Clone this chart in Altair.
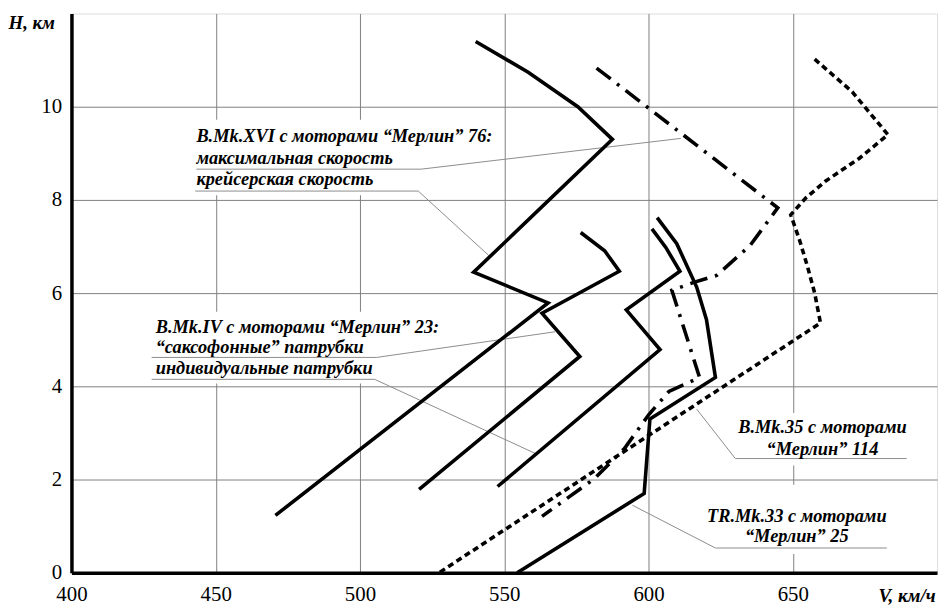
import altair as alt
import pandas as pd

# ---- curves: V (km/h), H (km) ----
xvi_cruise_v = [540.1, 558.3, 575.5, 587.5, 539.4, 565.2, 470.7]
xvi_cruise_h = [11.40, 10.74, 10.00, 9.30, 6.45, 5.79, 1.23]

iv_sax_v = [576.5, 584.8, 589.9, 563.1, 576.2, 520.5]
iv_sax_h = [7.30, 6.91, 6.47, 5.57, 4.64, 1.79]

iv_ind_v = [601.2, 606.0, 610.9, 592.3, 604.0, 547.7]
iv_ind_h = [7.38, 6.98, 6.47, 5.64, 4.79, 1.85]

tr33_v = [603.0, 609.8, 616.7, 620.1, 623.2, 600.5, 598.5, 554.5]
tr33_h = [7.62, 7.06, 6.13, 5.43, 4.19, 3.30, 1.70, 0.0]

xvi_max_v = [582.0, 644.8, 635.2, 623.6, 615.7, 608.1, 617.7, 607.1, 600.2, 591.6, 581.3, 563.1]
xvi_max_h = [10.83, 7.83, 7.02, 6.38, 6.23, 6.06, 4.19, 3.89, 3.40, 2.66, 2.02, 1.21]

b35_v = [657.6, 670.6, 683.0, 673.0, 661.3, 654.5, 649.3, 652.4, 655.2, 657.6, 659.6, 527.4]
b35_h = [11.02, 10.32, 9.40, 8.89, 8.40, 8.04, 7.68, 7.13, 6.55, 6.00, 5.36, 0.0]

x_ticks = [400, 450, 500, 550, 600, 650]
y_ticks = [0, 2, 4, 6, 8, 10]

# ---- annotation texts ----
lbl_xvi = ["B.Mk.XVI с моторами “Мерлин” 76:", "максимальная скорость", "крейсерская скорость"]
lbl_iv = ["B.Mk.IV с моторами “Мерлин”  23:", "“саксофонные” патрубки", "индивидуальные патрубки"]
lbl_35 = ["B.Mk.35 с моторами", "“Мерлин” 114"]
lbl_33 = ["TR.Mk.33 с моторами", "“Мерлин”  25"]

# anchor positions of label lines (data units)
lbl_xvi_v = [443.3, 443.3, 443.3]
lbl_xvi_h = [9.36, 8.89, 8.45]
lbl_iv_v = [429.2, 429.2, 429.2]
lbl_iv_h = [5.28, 4.85, 4.40]
lbl_35_v = [660.3, 660.3]
lbl_35_h = [3.13, 2.66]
lbl_33_v = [651.4, 651.4]
lbl_33_h = [1.21, 0.79]

# leader polylines (data units)
leaders = {
    "max": ([443.3, 521.2, 611.2], [8.66, 8.66, 9.32]),
    "cruise": ([442.9, 520.2, 544.6], [8.19, 8.19, 6.81]),
    "sax": ([427.8, 505.8, 567.6], [4.62, 4.62, 5.17]),
    "ind": ([427.8, 505.1, 561.1], [4.15, 4.15, 2.55]),
    "b35": ([689.5, 630.1, 616.7], [2.45, 2.45, 3.51]),
    "tr33": ([682.6, 623.2, 594.4], [0.53, 0.53, 1.45]),
}

# white boxes behind labels (data units)
box_v1 = [442.0, 427.0, 630.0, 621.0]
box_v2 = [546.0, 526.0, 690.0, 683.5]
box_h1 = [8.10, 4.06, 2.30, 0.40]
box_h2 = [9.72, 5.60, 3.43, 1.89]


def series(name, vs, hs):
    return [{"s": name, "i": k, "V": v, "H": h} for k, (v, h) in enumerate(zip(vs, hs))]


solid = pd.DataFrame(
    series("xvi_cruise", xvi_cruise_v, xvi_cruise_h)
    + series("iv_sax", iv_sax_v, iv_sax_h)
    + series("iv_ind", iv_ind_v, iv_ind_h)
    + series("tr33", tr33_v, tr33_h)
)
dashdot = pd.DataFrame(series("xvi_max", xvi_max_v, xvi_max_h))
dotted = pd.DataFrame(series("b35", b35_v, b35_h))

lead_rows = []
for name, (vs, hs) in leaders.items():
    lead_rows += series(name, vs, hs)
lead_df = pd.DataFrame(lead_rows)

box_df = pd.DataFrame({"v1": box_v1, "v2": box_v2, "h1": box_h1, "h2": box_h2})

left_txt = pd.DataFrame({
    "t": lbl_xvi + lbl_iv,
    "V": lbl_xvi_v + lbl_iv_v,
    "H": lbl_xvi_h + lbl_iv_h,
})
center_txt = pd.DataFrame({
    "t": lbl_35 + lbl_33,
    "V": lbl_35_v + lbl_33_v,
    "H": lbl_35_h + lbl_33_h,
})

FONT = "Liberation Serif"
xs = alt.Scale(domain=[400, 700], nice=False, zero=False)
ys = alt.Scale(domain=[0, 12], nice=False, zero=True)

x_axis = alt.Axis(
    values=x_ticks, grid=True, gridColor="#808080", gridWidth=1,
    domainColor="black", domainWidth=3.5, ticks=False, tickSize=0,
    labelFont=FONT, labelFontSize=21, labelColor="black", labelPadding=11,
    labelFlush=False,
    title="V, км/ч", titleFont=FONT, titleFontSize=19, titleFontStyle="italic",
    titleFontWeight="bold", titleColor="black", titleAlign="right",
    titleBaseline="middle", titleX=871, titleY=23, titleAngle=0,
)
y_axis = alt.Axis(
    values=y_ticks, grid=True, gridColor="#808080", gridWidth=1,
    domainColor="black", domainWidth=3.5, ticks=False, tickSize=0,
    labelFont=FONT, labelFontSize=21, labelColor="black", labelPadding=10,
    labelBaseline="middle", labelFlush=False,
    title="H, км", titleFont=FONT, titleFontSize=19, titleFontStyle="italic",
    titleFontWeight="bold", titleColor="black", titleAlign="left",
    titleBaseline="middle", titleX=-64, titleY=9, titleAngle=0,
)

boxes = alt.Chart(box_df).mark_rect(color="white").encode(
    x=alt.X("v1:Q", scale=xs, axis=x_axis),
    x2="v2:Q",
    y=alt.Y("h1:Q", scale=ys, axis=y_axis),
    y2="h2:Q",
)

lead = alt.Chart(lead_df).mark_line(color="#8c8c8c", strokeWidth=1).encode(
    x=alt.X("V:Q", scale=xs), y=alt.Y("H:Q", scale=ys),
    detail="s:N", order="i:Q",
)

solid_l = alt.Chart(solid).mark_line(color="black", strokeWidth=3.6, strokeJoin="miter").encode(
    x=alt.X("V:Q", scale=xs), y=alt.Y("H:Q", scale=ys),
    detail="s:N", order="i:Q",
)
dashdot_l = alt.Chart(dashdot).mark_line(
    color="black", strokeWidth=3.6, strokeDash=[18, 8, 3, 8]
).encode(x=alt.X("V:Q", scale=xs), y=alt.Y("H:Q", scale=ys), order="i:Q")
dotted_l = alt.Chart(dotted).mark_line(
    color="black", strokeWidth=3.6, strokeDash=[6, 4]
).encode(x=alt.X("V:Q", scale=xs), y=alt.Y("H:Q", scale=ys), order="i:Q")

txt_kw = dict(font=FONT, fontSize=18.5, fontStyle="italic", fontWeight="bold",
              color="black", baseline="middle")
left_t = alt.Chart(left_txt).mark_text(align="left", **txt_kw).encode(
    x=alt.X("V:Q", scale=xs), y=alt.Y("H:Q", scale=ys), text="t:N")
center_t = alt.Chart(center_txt).mark_text(align="center", **txt_kw).encode(
    x=alt.X("V:Q", scale=xs), y=alt.Y("H:Q", scale=ys), text="t:N")

chart = alt.layer(boxes, lead, solid_l, dashdot_l, dotted_l, left_t, center_t).properties(
    width=873, height=564,
    autosize=alt.AutoSizeParams(type="none"),
    padding={"left": 64, "top": 3, "right": 1, "bottom": 32},
).configure_view(stroke="#808080", strokeWidth=1).configure(background="white")

chart.save("out.html", embed_options={"renderer": "svg", "actions": False})
